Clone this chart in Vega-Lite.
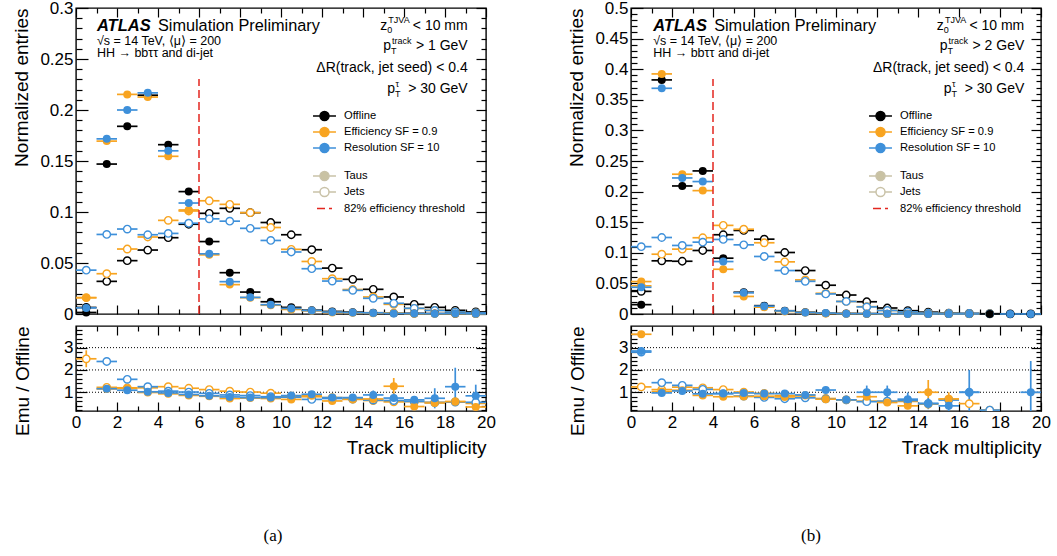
{
"$schema": "https://vega.github.io/schema/vega-lite/v6.json",
"background": "white",
"padding": {"left": 12, "top": -2, "right": 5, "bottom": 5},
"bounds": "flush",
"spacing": 555,
"resolve": {"scale": {"color": "independent", "fill": "independent", "strokeDash": "independent"}},
"config": {
  "font": "Liberation Sans",
  "view": {"stroke": "black", "strokeWidth": 1.4},
  "axis": {"labelFont": "Liberation Sans", "titleFont": "Liberation Sans", "labelFontSize": 17, "titleFontSize": 19, "titleFontWeight": "normal", "labelColor": "black", "titleColor": "black", "tickColor": "black", "tickWidth": 1.2, "domain": false, "grid": false, "labelFlush": false, "labelOverlap": false, "labelBound": false},
  "legend": {"labelFont": "Liberation Sans", "labelColor": "black"}
},
"datasets": {
"am": [
{"m":0.5,"s":"Off","t":"Jets","v":0.0064},{"m":1.5,"s":"Off","t":"Jets","v":0.032},{"m":2.5,"s":"Off","t":"Jets","v":0.0523},{"m":3.5,"s":"Off","t":"Jets","v":0.0627},{"m":4.5,"s":"Off","t":"Jets","v":0.0748},{"m":5.5,"s":"Off","t":"Jets","v":0.088},{"m":6.5,"s":"Off","t":"Jets","v":0.0987},{"m":7.5,"s":"Off","t":"Jets","v":0.1036},{"m":8.5,"s":"Off","t":"Jets","v":0.0993},{"m":9.5,"s":"Off","t":"Jets","v":0.0897},{"m":10.5,"s":"Off","t":"Jets","v":0.0777},{"m":11.5,"s":"Off","t":"Jets","v":0.063},{"m":12.5,"s":"Off","t":"Jets","v":0.045},{"m":13.5,"s":"Off","t":"Jets","v":0.034},{"m":14.5,"s":"Off","t":"Jets","v":0.0242},{"m":15.5,"s":"Off","t":"Jets","v":0.0167},{"m":16.5,"s":"Off","t":"Jets","v":0.0095},{"m":17.5,"s":"Off","t":"Jets","v":0.0065},{"m":18.5,"s":"Off","t":"Jets","v":0.0036},{"m":19.5,"s":"Off","t":"Jets","v":0.002},
{"m":0.5,"s":"Eff","t":"Jets","v":0.016},{"m":1.5,"s":"Eff","t":"Jets","v":0.0395},{"m":2.5,"s":"Eff","t":"Jets","v":0.0637},{"m":3.5,"s":"Eff","t":"Jets","v":0.0755},{"m":4.5,"s":"Eff","t":"Jets","v":0.0918},{"m":5.5,"s":"Eff","t":"Jets","v":0.101},{"m":6.5,"s":"Eff","t":"Jets","v":0.111},{"m":7.5,"s":"Eff","t":"Jets","v":0.1075},{"m":8.5,"s":"Eff","t":"Jets","v":0.0993},{"m":9.5,"s":"Eff","t":"Jets","v":0.0848},{"m":10.5,"s":"Eff","t":"Jets","v":0.0634},{"m":11.5,"s":"Eff","t":"Jets","v":0.0515},{"m":12.5,"s":"Eff","t":"Jets","v":0.0346},{"m":13.5,"s":"Eff","t":"Jets","v":0.024},{"m":14.5,"s":"Eff","t":"Jets","v":0.0167},{"m":15.5,"s":"Eff","t":"Jets","v":0.0095},{"m":16.5,"s":"Eff","t":"Jets","v":0.0055},{"m":17.5,"s":"Eff","t":"Jets","v":0.0036},{"m":18.5,"s":"Eff","t":"Jets","v":0.0021},{"m":19.5,"s":"Eff","t":"Jets","v":0.0011},
{"m":0.5,"s":"Res","t":"Jets","v":0.043},{"m":1.5,"s":"Res","t":"Jets","v":0.078},{"m":2.5,"s":"Res","t":"Jets","v":0.0833},{"m":3.5,"s":"Res","t":"Jets","v":0.0777},{"m":4.5,"s":"Res","t":"Jets","v":0.079},{"m":5.5,"s":"Res","t":"Jets","v":0.089},{"m":6.5,"s":"Res","t":"Jets","v":0.0933},{"m":7.5,"s":"Res","t":"Jets","v":0.091},{"m":8.5,"s":"Res","t":"Jets","v":0.084},{"m":9.5,"s":"Res","t":"Jets","v":0.0721},{"m":10.5,"s":"Res","t":"Jets","v":0.0608},{"m":11.5,"s":"Res","t":"Jets","v":0.0444},{"m":12.5,"s":"Res","t":"Jets","v":0.0323},{"m":13.5,"s":"Res","t":"Jets","v":0.0232},{"m":14.5,"s":"Res","t":"Jets","v":0.0154},{"m":15.5,"s":"Res","t":"Jets","v":0.0105},{"m":16.5,"s":"Res","t":"Jets","v":0.0056},{"m":17.5,"s":"Res","t":"Jets","v":0.0035},{"m":18.5,"s":"Res","t":"Jets","v":0.002},{"m":19.5,"s":"Res","t":"Jets","v":0.0011},
{"m":0.5,"s":"Off","t":"Taus","v":0.0015},{"m":1.5,"s":"Off","t":"Taus","v":0.147},{"m":2.5,"s":"Off","t":"Taus","v":0.184},{"m":3.5,"s":"Off","t":"Taus","v":0.2145},{"m":4.5,"s":"Off","t":"Taus","v":0.166},{"m":5.5,"s":"Off","t":"Taus","v":0.12},{"m":6.5,"s":"Off","t":"Taus","v":0.071},{"m":7.5,"s":"Off","t":"Taus","v":0.0405},{"m":8.5,"s":"Off","t":"Taus","v":0.0215},{"m":9.5,"s":"Off","t":"Taus","v":0.012},{"m":10.5,"s":"Off","t":"Taus","v":0.0065},{"m":11.5,"s":"Off","t":"Taus","v":0.0037},{"m":12.5,"s":"Off","t":"Taus","v":0.0025},{"m":13.5,"s":"Off","t":"Taus","v":0.0018},{"m":14.5,"s":"Off","t":"Taus","v":0.0012},{"m":15.5,"s":"Off","t":"Taus","v":0.0008},{"m":16.5,"s":"Off","t":"Taus","v":0.0006},{"m":17.5,"s":"Off","t":"Taus","v":0.0004},{"m":18.5,"s":"Off","t":"Taus","v":0.0003},{"m":19.5,"s":"Off","t":"Taus","v":0.0002},
{"m":0.5,"s":"Eff","t":"Taus","v":0.016},{"m":1.5,"s":"Eff","t":"Taus","v":0.1695},{"m":2.5,"s":"Eff","t":"Taus","v":0.2153},{"m":3.5,"s":"Eff","t":"Taus","v":0.2127},{"m":4.5,"s":"Eff","t":"Taus","v":0.1546},{"m":5.5,"s":"Eff","t":"Taus","v":0.102},{"m":6.5,"s":"Eff","t":"Taus","v":0.058},{"m":7.5,"s":"Eff","t":"Taus","v":0.0288},{"m":8.5,"s":"Eff","t":"Taus","v":0.016},{"m":9.5,"s":"Eff","t":"Taus","v":0.0086},{"m":10.5,"s":"Eff","t":"Taus","v":0.0045},{"m":11.5,"s":"Eff","t":"Taus","v":0.0031},{"m":12.5,"s":"Eff","t":"Taus","v":0.0015},{"m":13.5,"s":"Eff","t":"Taus","v":0.0012},{"m":14.5,"s":"Eff","t":"Taus","v":0.0008},{"m":15.5,"s":"Eff","t":"Taus","v":0.001},{"m":16.5,"s":"Eff","t":"Taus","v":0.0002},{"m":17.5,"s":"Eff","t":"Taus","v":0.0002},{"m":18.5,"s":"Eff","t":"Taus","v":0.00017},{"m":19.5,"s":"Eff","t":"Taus","v":0.00007},
{"m":0.5,"s":"Res","t":"Taus","v":0.006},{"m":1.5,"s":"Res","t":"Taus","v":0.1717},{"m":2.5,"s":"Res","t":"Taus","v":0.2},{"m":3.5,"s":"Res","t":"Taus","v":0.2168},{"m":4.5,"s":"Res","t":"Taus","v":0.16},{"m":5.5,"s":"Res","t":"Taus","v":0.1088},{"m":6.5,"s":"Res","t":"Taus","v":0.059},{"m":7.5,"s":"Res","t":"Taus","v":0.0317},{"m":8.5,"s":"Res","t":"Taus","v":0.0163},{"m":9.5,"s":"Res","t":"Taus","v":0.0091},{"m":10.5,"s":"Res","t":"Taus","v":0.0055},{"m":11.5,"s":"Res","t":"Taus","v":0.0034},{"m":12.5,"s":"Res","t":"Taus","v":0.0019},{"m":13.5,"s":"Res","t":"Taus","v":0.0014},{"m":14.5,"s":"Res","t":"Taus","v":0.0011},{"m":15.5,"s":"Res","t":"Taus","v":0.0006},{"m":16.5,"s":"Res","t":"Taus","v":0.0004},{"m":17.5,"s":"Res","t":"Taus","v":0.0003},{"m":18.5,"s":"Res","t":"Taus","v":0.0004},{"m":19.5,"s":"Res","t":"Taus","v":0.00017}
],
"ar": [
{"m":0.5,"s":"Eff","t":"Jets","r":2.5,"e":0.38},{"m":1.5,"s":"Eff","t":"Jets","r":1.22,"e":0.06},{"m":2.5,"s":"Eff","t":"Jets","r":1.2,"e":0.03},{"m":3.5,"s":"Eff","t":"Jets","r":1.2,"e":0.02},{"m":4.5,"s":"Eff","t":"Jets","r":1.25,"e":0.02},{"m":5.5,"s":"Eff","t":"Jets","r":1.18,"e":0.02},{"m":6.5,"s":"Eff","t":"Jets","r":1.12,"e":0.02},{"m":7.5,"s":"Eff","t":"Jets","r":1.05,"e":0.02},{"m":8.5,"s":"Eff","t":"Jets","r":1.01,"e":0.02},{"m":9.5,"s":"Eff","t":"Jets","r":0.96,"e":0.02},{"m":10.5,"s":"Eff","t":"Jets","r":0.82,"e":0.02},{"m":11.5,"s":"Eff","t":"Jets","r":0.8,"e":0.02},{"m":12.5,"s":"Eff","t":"Jets","r":0.76,"e":0.03},{"m":13.5,"s":"Eff","t":"Jets","r":0.7,"e":0.03},{"m":14.5,"s":"Eff","t":"Jets","r":0.63,"e":0.04},{"m":15.5,"s":"Eff","t":"Jets","r":0.57,"e":0.05},{"m":16.5,"s":"Eff","t":"Jets","r":0.58,"e":0.06},{"m":17.5,"s":"Eff","t":"Jets","r":0.55,"e":0.08},{"m":18.5,"s":"Eff","t":"Jets","r":0.58,"e":0.1},{"m":19.5,"s":"Eff","t":"Jets","r":0.5,"e":0.12},
{"m":1.5,"s":"Res","t":"Jets","r":2.38,"e":0.08},{"m":2.5,"s":"Res","t":"Jets","r":1.58,"e":0.04},{"m":3.5,"s":"Res","t":"Jets","r":1.25,"e":0.03},{"m":4.5,"s":"Res","t":"Jets","r":1.05,"e":0.02},{"m":5.5,"s":"Res","t":"Jets","r":1.01,"e":0.02},{"m":6.5,"s":"Res","t":"Jets","r":0.95,"e":0.02},{"m":7.5,"s":"Res","t":"Jets","r":0.88,"e":0.02},{"m":8.5,"s":"Res","t":"Jets","r":0.85,"e":0.02},{"m":9.5,"s":"Res","t":"Jets","r":0.8,"e":0.02},{"m":10.5,"s":"Res","t":"Jets","r":0.78,"e":0.02},{"m":11.5,"s":"Res","t":"Jets","r":0.68,"e":0.02},{"m":12.5,"s":"Res","t":"Jets","r":0.72,"e":0.03},{"m":13.5,"s":"Res","t":"Jets","r":0.69,"e":0.03},{"m":14.5,"s":"Res","t":"Jets","r":0.65,"e":0.04},{"m":15.5,"s":"Res","t":"Jets","r":0.63,"e":0.05},{"m":16.5,"s":"Res","t":"Jets","r":0.59,"e":0.06},{"m":17.5,"s":"Res","t":"Jets","r":0.54,"e":0.08},{"m":18.5,"s":"Res","t":"Jets","r":0.56,"e":0.1},{"m":19.5,"s":"Res","t":"Jets","r":0.55,"e":0.12},
{"m":1.5,"s":"Eff","t":"Taus","r":1.15,"e":0.02},{"m":2.5,"s":"Eff","t":"Taus","r":1.17,"e":0.02},{"m":3.5,"s":"Eff","t":"Taus","r":0.99,"e":0.02},{"m":4.5,"s":"Eff","t":"Taus","r":0.93,"e":0.02},{"m":5.5,"s":"Eff","t":"Taus","r":0.86,"e":0.02},{"m":6.5,"s":"Eff","t":"Taus","r":0.82,"e":0.03},{"m":7.5,"s":"Eff","t":"Taus","r":0.72,"e":0.03},{"m":8.5,"s":"Eff","t":"Taus","r":0.74,"e":0.04},{"m":9.5,"s":"Eff","t":"Taus","r":0.72,"e":0.05},{"m":10.5,"s":"Eff","t":"Taus","r":0.68,"e":0.05},{"m":11.5,"s":"Eff","t":"Taus","r":0.84,"e":0.07},{"m":12.5,"s":"Eff","t":"Taus","r":0.61,"e":0.08},{"m":13.5,"s":"Eff","t":"Taus","r":0.68,"e":0.09},{"m":14.5,"s":"Eff","t":"Taus","r":0.7,"e":0.1},{"m":15.5,"s":"Eff","t":"Taus","r":1.27,"e":0.37},{"m":16.5,"s":"Eff","t":"Taus","r":0.36,"e":0.1},{"m":17.5,"s":"Eff","t":"Taus","r":0.52,"e":0.15},{"m":18.5,"s":"Eff","t":"Taus","r":0.58,"e":0.2},{"m":19.5,"s":"Eff","t":"Taus","r":0.34,"e":0.15},
{"m":1.5,"s":"Res","t":"Taus","r":1.16,"e":0.02},{"m":2.5,"s":"Res","t":"Taus","r":1.09,"e":0.02},{"m":3.5,"s":"Res","t":"Taus","r":1.02,"e":0.02},{"m":4.5,"s":"Res","t":"Taus","r":0.97,"e":0.02},{"m":5.5,"s":"Res","t":"Taus","r":0.9,"e":0.02},{"m":6.5,"s":"Res","t":"Taus","r":0.84,"e":0.03},{"m":7.5,"s":"Res","t":"Taus","r":0.79,"e":0.03},{"m":8.5,"s":"Res","t":"Taus","r":0.76,"e":0.04},{"m":9.5,"s":"Res","t":"Taus","r":0.76,"e":0.05},{"m":10.5,"s":"Res","t":"Taus","r":0.85,"e":0.05},{"m":11.5,"s":"Res","t":"Taus","r":0.91,"e":0.07},{"m":12.5,"s":"Res","t":"Taus","r":0.76,"e":0.08},{"m":13.5,"s":"Res","t":"Taus","r":0.76,"e":0.1},{"m":14.5,"s":"Res","t":"Taus","r":0.88,"e":0.2},{"m":15.5,"s":"Res","t":"Taus","r":0.74,"e":0.2},{"m":16.5,"s":"Res","t":"Taus","r":0.66,"e":0.15},{"m":17.5,"s":"Res","t":"Taus","r":0.73,"e":0.45},{"m":18.5,"s":"Res","t":"Taus","r":1.25,"e":0.85},{"m":19.5,"s":"Res","t":"Taus","r":0.84,"e":0.5}
],
"bm": [
{"m":0.5,"s":"Off","t":"Jets","v":0.037},{"m":1.5,"s":"Off","t":"Jets","v":0.0869},{"m":2.5,"s":"Off","t":"Jets","v":0.0862},{"m":3.5,"s":"Off","t":"Jets","v":0.1038},{"m":4.5,"s":"Off","t":"Jets","v":0.1295},{"m":5.5,"s":"Off","t":"Jets","v":0.1365},{"m":6.5,"s":"Off","t":"Jets","v":0.1223},{"m":7.5,"s":"Off","t":"Jets","v":0.1005},{"m":8.5,"s":"Off","t":"Jets","v":0.071},{"m":9.5,"s":"Off","t":"Jets","v":0.047},{"m":10.5,"s":"Off","t":"Jets","v":0.031},{"m":11.5,"s":"Off","t":"Jets","v":0.02},{"m":12.5,"s":"Off","t":"Jets","v":0.0098},{"m":13.5,"s":"Off","t":"Jets","v":0.0054},{"m":14.5,"s":"Off","t":"Jets","v":0.003},{"m":15.5,"s":"Off","t":"Jets","v":0.0015},{"m":16.5,"s":"Off","t":"Jets","v":0.0009},{"m":17.5,"s":"Off","t":"Jets","v":0.0005},{"m":18.5,"s":"Off","t":"Jets","v":0.0003},{"m":19.5,"s":"Off","t":"Jets","v":0.0002},
{"m":0.5,"s":"Eff","t":"Jets","v":0.046},{"m":1.5,"s":"Eff","t":"Jets","v":0.0977},{"m":2.5,"s":"Eff","t":"Jets","v":0.106},{"m":3.5,"s":"Eff","t":"Jets","v":0.1246},{"m":4.5,"s":"Eff","t":"Jets","v":0.1448},{"m":5.5,"s":"Eff","t":"Jets","v":0.1385},{"m":6.5,"s":"Eff","t":"Jets","v":0.1164},{"m":7.5,"s":"Eff","t":"Jets","v":0.0852},{"m":8.5,"s":"Eff","t":"Jets","v":0.0557},{"m":9.5,"s":"Eff","t":"Jets","v":0.0338},{"m":10.5,"s":"Eff","t":"Jets","v":0.0205},{"m":11.5,"s":"Eff","t":"Jets","v":0.012},{"m":12.5,"s":"Eff","t":"Jets","v":0.0058},{"m":13.5,"s":"Eff","t":"Jets","v":0.0032},{"m":14.5,"s":"Eff","t":"Jets","v":0.0014},{"m":15.5,"s":"Eff","t":"Jets","v":0.001},{"m":16.5,"s":"Eff","t":"Jets","v":0.00045},{"m":17.5,"s":"Eff","t":"Jets","v":0.0001},
{"m":0.5,"s":"Res","t":"Jets","v":0.11},{"m":1.5,"s":"Res","t":"Jets","v":0.125},{"m":2.5,"s":"Res","t":"Jets","v":0.112},{"m":3.5,"s":"Res","t":"Jets","v":0.1174},{"m":4.5,"s":"Res","t":"Jets","v":0.1218},{"m":5.5,"s":"Res","t":"Jets","v":0.113},{"m":6.5,"s":"Res","t":"Jets","v":0.094},{"m":7.5,"s":"Res","t":"Jets","v":0.071},{"m":8.5,"s":"Res","t":"Jets","v":0.0534},{"m":9.5,"s":"Res","t":"Jets","v":0.0328},{"m":10.5,"s":"Res","t":"Jets","v":0.0205},{"m":11.5,"s":"Res","t":"Jets","v":0.0116},{"m":12.5,"s":"Res","t":"Jets","v":0.0058},{"m":13.5,"s":"Res","t":"Jets","v":0.0034},{"m":14.5,"s":"Res","t":"Jets","v":0.0015},{"m":15.5,"s":"Res","t":"Jets","v":0.001},{"m":16.5,"s":"Res","t":"Jets","v":0.0009},{"m":17.5,"s":"Res","t":"Jets","v":0.0001},
{"m":0.5,"s":"Off","t":"Taus","v":0.0153},{"m":1.5,"s":"Off","t":"Taus","v":0.3825},{"m":2.5,"s":"Off","t":"Taus","v":0.2092},{"m":3.5,"s":"Off","t":"Taus","v":0.2338},{"m":4.5,"s":"Off","t":"Taus","v":0.0912},{"m":5.5,"s":"Off","t":"Taus","v":0.0355},{"m":6.5,"s":"Off","t":"Taus","v":0.0136},{"m":7.5,"s":"Off","t":"Taus","v":0.0053},{"m":8.5,"s":"Off","t":"Taus","v":0.0028},{"m":9.5,"s":"Off","t":"Taus","v":0.0014},{"m":10.5,"s":"Off","t":"Taus","v":0.0009},{"m":11.5,"s":"Off","t":"Taus","v":0.0006},{"m":12.5,"s":"Off","t":"Taus","v":0.0004},{"m":13.5,"s":"Off","t":"Taus","v":0.0003},{"m":14.5,"s":"Off","t":"Taus","v":0.0002},{"m":15.5,"s":"Off","t":"Taus","v":0.00015},{"m":16.5,"s":"Off","t":"Taus","v":0.0001},{"m":17.5,"s":"Off","t":"Taus","v":0.0001},{"m":18.5,"s":"Off","t":"Taus","v":0.00005},{"m":19.5,"s":"Off","t":"Taus","v":0.00005},
{"m":0.5,"s":"Eff","t":"Taus","v":0.053},{"m":1.5,"s":"Eff","t":"Taus","v":0.3923},{"m":2.5,"s":"Eff","t":"Taus","v":0.2284},{"m":3.5,"s":"Eff","t":"Taus","v":0.2016},{"m":4.5,"s":"Eff","t":"Taus","v":0.0731},{"m":5.5,"s":"Eff","t":"Taus","v":0.0287},{"m":6.5,"s":"Eff","t":"Taus","v":0.0112},{"m":7.5,"s":"Eff","t":"Taus","v":0.0042},{"m":8.5,"s":"Eff","t":"Taus","v":0.0024},{"m":9.5,"s":"Eff","t":"Taus","v":0.001},{"m":10.5,"s":"Eff","t":"Taus","v":0.0006},{"m":11.5,"s":"Eff","t":"Taus","v":0.0005},{"m":12.5,"s":"Eff","t":"Taus","v":0.0002},{"m":13.5,"s":"Eff","t":"Taus","v":0.00012},{"m":14.5,"s":"Eff","t":"Taus","v":0.0002},{"m":15.5,"s":"Eff","t":"Taus","v":0.0001},{"m":16.5,"s":"Eff","t":"Taus","v":0.00005},
{"m":0.5,"s":"Res","t":"Taus","v":0.0437},{"m":1.5,"s":"Res","t":"Taus","v":0.3688},{"m":2.5,"s":"Res","t":"Taus","v":0.2223},{"m":3.5,"s":"Res","t":"Taus","v":0.2164},{"m":4.5,"s":"Res","t":"Taus","v":0.0857},{"m":5.5,"s":"Res","t":"Taus","v":0.0347},{"m":6.5,"s":"Res","t":"Taus","v":0.0128},{"m":7.5,"s":"Res","t":"Taus","v":0.005},{"m":8.5,"s":"Res","t":"Taus","v":0.0025},{"m":9.5,"s":"Res","t":"Taus","v":0.0015},{"m":10.5,"s":"Res","t":"Taus","v":0.0006},{"m":11.5,"s":"Res","t":"Taus","v":0.0006},{"m":12.5,"s":"Res","t":"Taus","v":0.0004},{"m":13.5,"s":"Res","t":"Taus","v":0.0002},{"m":14.5,"s":"Res","t":"Taus","v":0.0001},{"m":15.5,"s":"Res","t":"Taus","v":0.00006},{"m":16.5,"s":"Res","t":"Taus","v":0.0001},{"m":18.5,"s":"Res","t":"Taus","v":0.00004},{"m":19.5,"s":"Res","t":"Taus","v":0.00005}
],
"br": [
{"m":0.5,"s":"Eff","t":"Jets","r":1.24,"e":0.04},{"m":1.5,"s":"Eff","t":"Jets","r":1.12,"e":0.02},{"m":2.5,"s":"Eff","t":"Jets","r":1.23,"e":0.02},{"m":3.5,"s":"Eff","t":"Jets","r":1.2,"e":0.02},{"m":4.5,"s":"Eff","t":"Jets","r":1.12,"e":0.02},{"m":5.5,"s":"Eff","t":"Jets","r":1.01,"e":0.02},{"m":6.5,"s":"Eff","t":"Jets","r":0.95,"e":0.02},{"m":7.5,"s":"Eff","t":"Jets","r":0.85,"e":0.02},{"m":8.5,"s":"Eff","t":"Jets","r":0.78,"e":0.02},{"m":9.5,"s":"Eff","t":"Jets","r":0.72,"e":0.03},{"m":10.5,"s":"Eff","t":"Jets","r":0.66,"e":0.03},{"m":11.5,"s":"Eff","t":"Jets","r":0.6,"e":0.04},{"m":12.5,"s":"Eff","t":"Jets","r":0.59,"e":0.05},{"m":13.5,"s":"Eff","t":"Jets","r":0.59,"e":0.06},{"m":14.5,"s":"Eff","t":"Jets","r":0.47,"e":0.08},{"m":15.5,"s":"Eff","t":"Jets","r":0.69,"e":0.1},{"m":16.5,"s":"Eff","t":"Jets","r":0.49,"e":0.12},{"m":17.5,"s":"Eff","t":"Jets","r":0.2,"e":0.08},
{"m":0.5,"s":"Res","t":"Jets","r":2.8,"e":0.06},{"m":1.5,"s":"Res","t":"Jets","r":1.43,"e":0.02},{"m":2.5,"s":"Res","t":"Jets","r":1.31,"e":0.02},{"m":3.5,"s":"Res","t":"Jets","r":1.13,"e":0.02},{"m":4.5,"s":"Res","t":"Jets","r":0.94,"e":0.02},{"m":5.5,"s":"Res","t":"Jets","r":0.83,"e":0.02},{"m":6.5,"s":"Res","t":"Jets","r":0.77,"e":0.02},{"m":7.5,"s":"Res","t":"Jets","r":0.71,"e":0.02},{"m":8.5,"s":"Res","t":"Jets","r":0.75,"e":0.02},{"m":9.5,"s":"Res","t":"Jets","r":0.7,"e":0.03},{"m":10.5,"s":"Res","t":"Jets","r":0.66,"e":0.03},{"m":11.5,"s":"Res","t":"Jets","r":0.58,"e":0.04},{"m":12.5,"s":"Res","t":"Jets","r":0.6,"e":0.05},{"m":13.5,"s":"Res","t":"Jets","r":0.63,"e":0.06},{"m":14.5,"s":"Res","t":"Jets","r":0.5,"e":0.08},{"m":15.5,"s":"Res","t":"Jets","r":0.65,"e":0.1},{"m":16.5,"s":"Res","t":"Jets","r":1.0,"e":0.2},{"m":17.5,"s":"Res","t":"Jets","r":0.2,"e":0.08},
{"m":0.5,"s":"Eff","t":"Taus","r":3.6,"e":0.1},{"m":1.5,"s":"Eff","t":"Taus","r":1.03,"e":0.01},{"m":2.5,"s":"Eff","t":"Taus","r":1.09,"e":0.01},{"m":3.5,"s":"Eff","t":"Taus","r":0.86,"e":0.01},{"m":4.5,"s":"Eff","t":"Taus","r":0.8,"e":0.02},{"m":5.5,"s":"Eff","t":"Taus","r":0.81,"e":0.03},{"m":6.5,"s":"Eff","t":"Taus","r":0.82,"e":0.05},{"m":7.5,"s":"Eff","t":"Taus","r":0.79,"e":0.07},{"m":8.5,"s":"Eff","t":"Taus","r":0.85,"e":0.1},{"m":9.5,"s":"Eff","t":"Taus","r":0.69,"e":0.1},{"m":10.5,"s":"Eff","t":"Taus","r":0.66,"e":0.1},{"m":11.5,"s":"Eff","t":"Taus","r":0.8,"e":0.15},{"m":12.5,"s":"Eff","t":"Taus","r":0.54,"e":0.15},{"m":13.5,"s":"Eff","t":"Taus","r":0.39,"e":0.15},{"m":14.5,"s":"Eff","t":"Taus","r":1.0,"e":0.55},{"m":15.5,"s":"Eff","t":"Taus","r":0.7,"e":0.3},
{"m":0.5,"s":"Res","t":"Taus","r":2.85,"e":0.08},{"m":1.5,"s":"Res","t":"Taus","r":0.97,"e":0.01},{"m":2.5,"s":"Res","t":"Taus","r":1.06,"e":0.01},{"m":3.5,"s":"Res","t":"Taus","r":0.93,"e":0.01},{"m":4.5,"s":"Res","t":"Taus","r":0.94,"e":0.02},{"m":5.5,"s":"Res","t":"Taus","r":0.97,"e":0.03},{"m":6.5,"s":"Res","t":"Taus","r":0.94,"e":0.05},{"m":7.5,"s":"Res","t":"Taus","r":0.94,"e":0.07},{"m":8.5,"s":"Res","t":"Taus","r":0.88,"e":0.08},{"m":9.5,"s":"Res","t":"Taus","r":1.1,"e":0.15},{"m":10.5,"s":"Res","t":"Taus","r":0.66,"e":0.1},{"m":11.5,"s":"Res","t":"Taus","r":1.0,"e":0.3},{"m":12.5,"s":"Res","t":"Taus","r":1.0,"e":0.3},{"m":13.5,"s":"Res","t":"Taus","r":0.69,"e":0.3},{"m":14.5,"s":"Res","t":"Taus","r":0.49,"e":0.25},{"m":15.5,"s":"Res","t":"Taus","r":0.39,"e":0.25},{"m":16.5,"s":"Res","t":"Taus","r":1.0,"e":1.0},{"m":19.5,"s":"Res","t":"Taus","r":1.0,"e":1.4}
]
},
"hconcat": [
{
 "bounds": "flush",
 "spacing": 12,
 "title": {"text": "(a)", "orient": "bottom", "anchor": "middle", "frame": "group", "font": "Liberation Serif", "fontSize": 17, "fontWeight": "normal", "color": "black", "offset": 70, "dx": 197},
 "resolve": {"scale": {"color": "independent", "fill": "independent", "strokeDash": "independent"}},
 "vconcat": [
 {
  "width": 410, "height": 306,
  "resolve": {"axis": {"x": "independent", "y": "independent"}},
  "layer": [
   {"data": {"name": "am"},
    "mark": {"type": "tick", "orient": "horizontal", "size": 20.5, "thickness": 1.7, "opacity": 1},
    "encoding": {
     "x": {"field": "m", "type": "quantitative", "scale": {"domain": [0, 20], "nice": false, "zero": false}, "axis": {"orient": "bottom", "values": [0,2,4,6,8,10,12,14,16,18,20], "labels": false, "title": null, "tickSize": -9}},
     "y": {"field": "v", "type": "quantitative", "scale": {"domain": [0, 0.3], "nice": false}, "axis": {"orient": "left", "values": [0,0.05,0.1,0.15,0.2,0.25,0.3], "format": "~g", "title": "Normalized entries", "titleAnchor": "end", "titlePadding": 8, "tickSize": -12, "labelPadding": 15}},
     "color": {"field": "s", "type": "nominal", "scale": {"domain": ["Off", "Eff", "Res"], "range": ["#000000", "#f8a420", "#3e90da"]},
      "legend": {"orient": "none", "legendX": 240, "legendY": 99.5, "title": null, "padding": 0, "symbolType": "M-1.53,0H-0.6M0.6,0H1.53M-0.6,0A0.6,0.6 0 1,1 0.6,0A0.6,0.6 0 1,1 -0.6,0Z", "symbolSize": 225, "symbolStrokeWidth": 1.5, "symbolOpacity": 1, "labelFontSize": 11.2, "labelOffset": 11, "rowPadding": 0,
       "labelExpr": "datum.label === 'Off' ? 'Offline' : datum.label === 'Eff' ? 'Efficiency SF = 0.9' : 'Resolution SF = 10'",
       "encode": {"symbols": {"update": {"fill": {"signal": "datum.value === 'Off' ? '#000000' : datum.value === 'Eff' ? '#f8a420' : '#3e90da'"}, "stroke": {"signal": "datum.value === 'Off' ? '#000000' : datum.value === 'Eff' ? '#f8a420' : '#3e90da'"}, "opacity": {"value": 1}, "fillOpacity": {"value": 1}, "strokeOpacity": {"value": 1}}}}}}
    }},
   {"data": {"name": "am"}, "transform": [{"filter": "datum.t === 'Jets'"}],
    "mark": {"type": "point", "shape": "circle", "filled": false, "size": 55, "strokeWidth": 1.4, "opacity": 1},
    "encoding": {
     "x": {"field": "m", "type": "quantitative", "axis": {"orient": "top", "values": [0,2,4,6,8,10,12,14,16,18,20], "labels": false, "title": null, "tickSize": -9}},
     "y": {"field": "v", "type": "quantitative", "axis": {"orient": "right", "values": [0,0.05,0.1,0.15,0.2,0.25,0.3], "labels": false, "title": null, "tickSize": -10}},
     "color": {"field": "s", "type": "nominal", "legend": null},
     "fill": {"field": "t", "type": "nominal", "scale": {"domain": ["Taus", "Jets"], "range": ["#c9c2a3", "#ffffff"]},
      "legend": {"orient": "none", "legendX": 240, "legendY": 159.5, "title": null, "padding": 0, "symbolType": "M-1.53,0H-0.6M0.6,0H1.53M-0.6,0A0.6,0.6 0 1,1 0.6,0A0.6,0.6 0 1,1 -0.6,0Z", "symbolSize": 225, "symbolStrokeWidth": 1.5, "symbolStrokeColor": "#c9c2a8", "symbolOpacity": 1, "labelFontSize": 11.2, "labelOffset": 11, "rowPadding": 0,
       "encode": {"symbols": {"update": {"stroke": {"value": "#c9c2a8"}, "opacity": {"value": 1}, "fillOpacity": {"value": 1}, "strokeOpacity": {"value": 1}}}}}}
    }},
   {"data": {"name": "am"}, "transform": [{"filter": "datum.t === 'Taus'"}],
    "mark": {"type": "point", "shape": "circle", "filled": true, "size": 64, "opacity": 1},
    "encoding": {
     "x": {"field": "m", "type": "quantitative", "axis": {"orient": "bottom", "values": [1,3,5,7,9,11,13,15,17,19], "labels": false, "title": null, "tickSize": -5}},
     "y": {"field": "v", "type": "quantitative", "axis": {"orient": "left", "values": [0.01,0.02,0.03,0.04,0.06,0.07,0.08,0.09,0.11,0.12,0.13,0.14,0.16,0.17,0.18,0.19,0.21,0.22,0.23,0.24,0.26,0.27,0.28,0.29], "labels": false, "title": null, "tickSize": -6}},
     "color": {"field": "s", "type": "nominal", "legend": null}
    }},
   {"data": {"values": [{"thr": 6, "lab": "82% efficiency threshold"}]},
    "mark": {"type": "rule", "color": "#e3261f", "strokeWidth": 1.5},
    "encoding": {
     "x": {"field": "thr", "type": "quantitative", "axis": {"orient": "top", "values": [1,3,5,7,9,11,13,15,17,19], "labels": false, "title": null, "tickSize": -5}},
     "y": {"datum": 0, "type": "quantitative", "axis": {"orient": "right", "values": [0.01,0.02,0.03,0.04,0.06,0.07,0.08,0.09,0.11,0.12,0.13,0.14,0.16,0.17,0.18,0.19,0.21,0.22,0.23,0.24,0.26,0.27,0.28,0.29], "labels": false, "title": null, "tickSize": -5}},
     "y2": {"datum": 0.2304},
     "strokeDash": {"field": "lab", "type": "nominal", "scale": {"range": [[8, 4]]},
      "legend": {"orient": "none", "legendX": 240, "legendY": 192, "title": null, "padding": 0, "symbolSize": 225, "symbolStrokeWidth": 1.5, "labelFontSize": 11.2, "labelOffset": 11, "rowPadding": 0,
       "encode": {"symbols": {"update": {"shape": {"value": "M-1.53,0H1.53"}, "stroke": {"value": "#e3261f"}, "strokeDash": {"value": [7, 8]}, "opacity": {"value": 1}, "strokeOpacity": {"value": 1}}}}}}
    }},
   {"data": {"values": [{}]},
    "layer": [
     {"mark": {"type": "text", "text": "ATLAS", "align": "left", "baseline": "middle", "fontSize": 16.5, "fontStyle": "italic", "fontWeight": "bold", "color": "black"}, "encoding": {"x": {"datum": 1.02, "type": "quantitative", "axis": null}, "y": {"datum": 0.2819, "type": "quantitative", "axis": null}}},
     {"mark": {"type": "text", "text": "Simulation Preliminary", "align": "left", "baseline": "middle", "fontSize": 16.3, "dx": 61, "color": "black"}, "encoding": {"x": {"datum": 1.02, "type": "quantitative", "axis": null}, "y": {"datum": 0.2819, "type": "quantitative", "axis": null}}},
     {"mark": {"type": "text", "text": "√s = 14 TeV, ⟨μ⟩ = 200", "align": "left", "baseline": "middle", "fontSize": 12.5, "color": "black"}, "encoding": {"x": {"datum": 1.02, "type": "quantitative", "axis": null}, "y": {"datum": 0.2676, "type": "quantitative", "axis": null}}},
     {"mark": {"type": "text", "text": "HH → bbττ and di-jet", "align": "left", "baseline": "middle", "fontSize": 12.5, "color": "black"}, "encoding": {"x": {"datum": 1.02, "type": "quantitative", "axis": null}, "y": {"datum": 0.2554, "type": "quantitative", "axis": null}}},
     {"mark": {"type": "text", "text": "< 10 mm", "align": "right", "baseline": "middle", "fontSize": 14, "color": "black"}, "encoding": {"x": {"datum": 19.107, "type": "quantitative", "axis": null}, "y": {"datum": 0.2824, "type": "quantitative", "axis": null}}},
     {"mark": {"type": "text", "text": "TJVA", "align": "right", "baseline": "middle", "fontSize": 9, "dx": -58, "dy": -5.5, "color": "black"}, "encoding": {"x": {"datum": 19.107, "type": "quantitative", "axis": null}, "y": {"datum": 0.2824, "type": "quantitative", "axis": null}}},
     {"mark": {"type": "text", "text": "0", "align": "left", "baseline": "middle", "fontSize": 9, "dx": -80.5, "dy": 4.5, "color": "black"}, "encoding": {"x": {"datum": 19.107, "type": "quantitative", "axis": null}, "y": {"datum": 0.2824, "type": "quantitative", "axis": null}}},
     {"mark": {"type": "text", "text": "z", "align": "right", "baseline": "middle", "fontSize": 14, "dx": -80.5, "color": "black"}, "encoding": {"x": {"datum": 19.107, "type": "quantitative", "axis": null}, "y": {"datum": 0.2824, "type": "quantitative", "axis": null}}},
     {"mark": {"type": "text", "text": "> 1 GeV", "align": "right", "baseline": "middle", "fontSize": 14, "color": "black"}, "encoding": {"x": {"datum": 19.107, "type": "quantitative", "axis": null}, "y": {"datum": 0.2627, "type": "quantitative", "axis": null}}},
     {"mark": {"type": "text", "text": "track", "align": "right", "baseline": "middle", "fontSize": 9, "dx": -56.2, "dy": -5.5, "color": "black"}, "encoding": {"x": {"datum": 19.107, "type": "quantitative", "axis": null}, "y": {"datum": 0.2627, "type": "quantitative", "axis": null}}},
     {"mark": {"type": "text", "text": "T", "align": "left", "baseline": "middle", "fontSize": 9, "dx": -76.7, "dy": 4.5, "color": "black"}, "encoding": {"x": {"datum": 19.107, "type": "quantitative", "axis": null}, "y": {"datum": 0.2627, "type": "quantitative", "axis": null}}},
     {"mark": {"type": "text", "text": "p", "align": "right", "baseline": "middle", "fontSize": 14, "dx": -76.7, "color": "black"}, "encoding": {"x": {"datum": 19.107, "type": "quantitative", "axis": null}, "y": {"datum": 0.2627, "type": "quantitative", "axis": null}}},
     {"mark": {"type": "text", "text": "ΔR(track, jet seed) < 0.4", "align": "right", "baseline": "middle", "fontSize": 14, "color": "black"}, "encoding": {"x": {"datum": 19.107, "type": "quantitative", "axis": null}, "y": {"datum": 0.2415, "type": "quantitative", "axis": null}}},
     {"mark": {"type": "text", "text": "> 30 GeV", "align": "right", "baseline": "middle", "fontSize": 14, "color": "black"}, "encoding": {"x": {"datum": 19.107, "type": "quantitative", "axis": null}, "y": {"datum": 0.2203, "type": "quantitative", "axis": null}}},
     {"mark": {"type": "text", "text": "τ", "align": "left", "baseline": "middle", "fontSize": 9, "dx": -72.2, "dy": -5.5, "color": "black"}, "encoding": {"x": {"datum": 19.107, "type": "quantitative", "axis": null}, "y": {"datum": 0.2203, "type": "quantitative", "axis": null}}},
     {"mark": {"type": "text", "text": "T", "align": "left", "baseline": "middle", "fontSize": 9, "dx": -72.7, "dy": 4.5, "color": "black"}, "encoding": {"x": {"datum": 19.107, "type": "quantitative", "axis": null}, "y": {"datum": 0.2203, "type": "quantitative", "axis": null}}},
     {"mark": {"type": "text", "text": "p", "align": "right", "baseline": "middle", "fontSize": 14, "dx": -72.7, "color": "black"}, "encoding": {"x": {"datum": 19.107, "type": "quantitative", "axis": null}, "y": {"datum": 0.2203, "type": "quantitative", "axis": null}}}
    ]}
  ]
 },
 {
  "width": 410, "height": 85,
  "resolve": {"axis": {"x": "independent", "y": "independent"}},
  "layer": [
   {"data": {"values": [{}]}, "mark": {"type": "rule", "color": "black", "strokeWidth": 1, "strokeDash": [1, 2]}, "encoding": {"y": {"datum": 1, "type": "quantitative", "axis": {"orient": "right", "values": [0.2,0.4,0.6,0.8,1.2,1.4,1.6,1.8,2.2,2.4,2.6,2.8,3.2,3.4,3.6,3.8], "labels": false, "title": null, "tickSize": -5}}}},
   {"data": {"values": [{}]}, "mark": {"type": "rule", "color": "black", "strokeWidth": 1, "strokeDash": [1, 2]}, "encoding": {"y": {"datum": 2, "type": "quantitative", "axis": null}}},
   {"data": {"values": [{}]}, "mark": {"type": "rule", "color": "black", "strokeWidth": 1, "strokeDash": [1, 2]}, "encoding": {"y": {"datum": 3, "type": "quantitative", "axis": null}}},
   {"data": {"name": "ar"},
    "mark": {"type": "tick", "orient": "horizontal", "size": 20.5, "thickness": 1.7, "opacity": 1, "clip": true},
    "encoding": {
     "x": {"field": "m", "type": "quantitative", "scale": {"domain": [0, 20], "nice": false, "zero": false}, "axis": {"orient": "bottom", "values": [0,2,4,6,8,10,12,14,16,18,20], "format": "d", "title": "Track multiplicity", "titleAnchor": "end", "titlePadding": 8, "tickSize": -9, "labelPadding": 12}},
     "y": {"field": "r", "type": "quantitative", "scale": {"domain": [0.16, 3.97], "nice": false, "zero": false}, "axis": {"orient": "left", "values": [1,2,3], "format": "d", "title": "Emu / Offline", "titleAnchor": "end", "titlePadding": 31, "tickSize": -11, "labelPadding": 14}},
     "color": {"field": "s", "type": "nominal", "scale": {"domain": ["Eff", "Res"], "range": ["#f8a420", "#3e90da"]}, "legend": null}
    }},
   {"data": {"name": "ar"},
    "mark": {"type": "errorbar", "thickness": 1.7, "clip": true},
    "encoding": {
     "x": {"field": "m", "type": "quantitative", "axis": null},
     "y": {"field": "r", "type": "quantitative", "axis": null},
     "yError": {"field": "e"},
     "color": {"field": "s", "type": "nominal", "legend": null}
    }},
   {"data": {"name": "ar"}, "transform": [{"filter": "datum.t === 'Jets'"}],
    "mark": {"type": "point", "shape": "circle", "filled": false, "fill": "white", "size": 55, "strokeWidth": 1.4, "opacity": 1, "clip": true},
    "encoding": {
     "x": {"field": "m", "type": "quantitative", "axis": {"orient": "top", "values": [0,2,4,6,8,10,12,14,16,18,20], "labels": false, "title": null, "tickSize": -9}},
     "y": {"field": "r", "type": "quantitative", "axis": {"orient": "right", "values": [1,2,3], "labels": false, "title": null, "tickSize": -10}},
     "color": {"field": "s", "type": "nominal", "legend": null}
    }},
   {"data": {"name": "ar"}, "transform": [{"filter": "datum.t === 'Taus'"}],
    "mark": {"type": "point", "shape": "circle", "filled": true, "size": 64, "opacity": 1, "clip": true},
    "encoding": {
     "x": {"field": "m", "type": "quantitative", "axis": {"orient": "bottom", "values": [1,3,5,7,9,11,13,15,17,19], "labels": false, "title": null, "tickSize": -5}},
     "y": {"field": "r", "type": "quantitative", "axis": {"orient": "left", "values": [0.2,0.4,0.6,0.8,1.2,1.4,1.6,1.8,2.2,2.4,2.6,2.8,3.2,3.4,3.6,3.8], "labels": false, "title": null, "tickSize": -6}},
     "color": {"field": "s", "type": "nominal", "legend": null}
    }},
   {"data": {"name": "ar"},
    "mark": {"type": "point", "opacity": 0},
    "encoding": {
     "x": {"field": "m", "type": "quantitative", "axis": {"orient": "top", "values": [1,3,5,7,9,11,13,15,17,19], "labels": false, "title": null, "tickSize": -5}},
     "y": {"field": "r", "type": "quantitative", "axis": null}
    }}
  ]
 }
 ]
},
{
 "bounds": "flush",
 "spacing": 12,
 "title": {"text": "(b)", "orient": "bottom", "anchor": "middle", "frame": "group", "font": "Liberation Serif", "fontSize": 17, "fontWeight": "normal", "color": "black", "offset": 70, "dx": 180},
 "resolve": {"scale": {"color": "independent", "fill": "independent", "strokeDash": "independent"}},
 "vconcat": [
 {
  "width": 410, "height": 306,
  "resolve": {"axis": {"x": "independent", "y": "independent"}},
  "layer": [
   {"data": {"name": "bm"},
    "mark": {"type": "tick", "orient": "horizontal", "size": 20.5, "thickness": 1.7, "opacity": 1},
    "encoding": {
     "x": {"field": "m", "type": "quantitative", "scale": {"domain": [0, 20], "nice": false, "zero": false}, "axis": {"orient": "bottom", "values": [0,2,4,6,8,10,12,14,16,18,20], "labels": false, "title": null, "tickSize": -9}},
     "y": {"field": "v", "type": "quantitative", "scale": {"domain": [0, 0.5], "nice": false}, "axis": {"orient": "left", "values": [0,0.05,0.1,0.15,0.2,0.25,0.3,0.35,0.4,0.45,0.5], "format": "~g", "title": "Normalized entries", "titleAnchor": "end", "titlePadding": 8, "tickSize": -12, "labelPadding": 15}},
     "color": {"field": "s", "type": "nominal", "scale": {"domain": ["Off", "Eff", "Res"], "range": ["#000000", "#f8a420", "#3e90da"]},
      "legend": {"orient": "none", "legendX": 241, "legendY": 99.5, "title": null, "padding": 0, "symbolType": "M-1.53,0H-0.6M0.6,0H1.53M-0.6,0A0.6,0.6 0 1,1 0.6,0A0.6,0.6 0 1,1 -0.6,0Z", "symbolSize": 225, "symbolStrokeWidth": 1.5, "symbolOpacity": 1, "labelFontSize": 11.2, "labelOffset": 11, "rowPadding": 0,
       "labelExpr": "datum.label === 'Off' ? 'Offline' : datum.label === 'Eff' ? 'Efficiency SF = 0.9' : 'Resolution SF = 10'",
       "encode": {"symbols": {"update": {"fill": {"signal": "datum.value === 'Off' ? '#000000' : datum.value === 'Eff' ? '#f8a420' : '#3e90da'"}, "stroke": {"signal": "datum.value === 'Off' ? '#000000' : datum.value === 'Eff' ? '#f8a420' : '#3e90da'"}, "opacity": {"value": 1}, "fillOpacity": {"value": 1}, "strokeOpacity": {"value": 1}}}}}}
    }},
   {"data": {"name": "bm"}, "transform": [{"filter": "datum.t === 'Jets'"}],
    "mark": {"type": "point", "shape": "circle", "filled": false, "size": 55, "strokeWidth": 1.4, "opacity": 1},
    "encoding": {
     "x": {"field": "m", "type": "quantitative", "axis": {"orient": "top", "values": [0,2,4,6,8,10,12,14,16,18,20], "labels": false, "title": null, "tickSize": -9}},
     "y": {"field": "v", "type": "quantitative", "axis": {"orient": "right", "values": [0,0.05,0.1,0.15,0.2,0.25,0.3,0.35,0.4,0.45,0.5], "labels": false, "title": null, "tickSize": -10}},
     "color": {"field": "s", "type": "nominal", "legend": null},
     "fill": {"field": "t", "type": "nominal", "scale": {"domain": ["Taus", "Jets"], "range": ["#c9c2a3", "#ffffff"]},
      "legend": {"orient": "none", "legendX": 241, "legendY": 159.5, "title": null, "padding": 0, "symbolType": "M-1.53,0H-0.6M0.6,0H1.53M-0.6,0A0.6,0.6 0 1,1 0.6,0A0.6,0.6 0 1,1 -0.6,0Z", "symbolSize": 225, "symbolStrokeWidth": 1.5, "symbolStrokeColor": "#c9c2a8", "symbolOpacity": 1, "labelFontSize": 11.2, "labelOffset": 11, "rowPadding": 0,
       "encode": {"symbols": {"update": {"stroke": {"value": "#c9c2a8"}, "opacity": {"value": 1}, "fillOpacity": {"value": 1}, "strokeOpacity": {"value": 1}}}}}}
    }},
   {"data": {"name": "bm"}, "transform": [{"filter": "datum.t === 'Taus'"}],
    "mark": {"type": "point", "shape": "circle", "filled": true, "size": 64, "opacity": 1},
    "encoding": {
     "x": {"field": "m", "type": "quantitative", "axis": {"orient": "bottom", "values": [1,3,5,7,9,11,13,15,17,19], "labels": false, "title": null, "tickSize": -5}},
     "y": {"field": "v", "type": "quantitative", "axis": {"orient": "left", "values": [0.01,0.02,0.03,0.04,0.06,0.07,0.08,0.09,0.11,0.12,0.13,0.14,0.16,0.17,0.18,0.19,0.21,0.22,0.23,0.24,0.26,0.27,0.28,0.29,0.31,0.32,0.33,0.34,0.36,0.37,0.38,0.39,0.41,0.42,0.43,0.44,0.46,0.47,0.48,0.49], "labels": false, "title": null, "tickSize": -6}},
     "color": {"field": "s", "type": "nominal", "legend": null}
    }},
   {"data": {"values": [{"thr": 4, "lab": "82% efficiency threshold"}]},
    "mark": {"type": "rule", "color": "#e3261f", "strokeWidth": 1.5},
    "encoding": {
     "x": {"field": "thr", "type": "quantitative", "axis": {"orient": "top", "values": [1,3,5,7,9,11,13,15,17,19], "labels": false, "title": null, "tickSize": -5}},
     "y": {"datum": 0, "type": "quantitative", "axis": {"orient": "right", "values": [0.01,0.02,0.03,0.04,0.06,0.07,0.08,0.09,0.11,0.12,0.13,0.14,0.16,0.17,0.18,0.19,0.21,0.22,0.23,0.24,0.26,0.27,0.28,0.29,0.31,0.32,0.33,0.34,0.36,0.37,0.38,0.39,0.41,0.42,0.43,0.44,0.46,0.47,0.48,0.49], "labels": false, "title": null, "tickSize": -5}},
     "y2": {"datum": 0.384},
     "strokeDash": {"field": "lab", "type": "nominal", "scale": {"range": [[8, 4]]},
      "legend": {"orient": "none", "legendX": 241, "legendY": 192, "title": null, "padding": 0, "symbolSize": 225, "symbolStrokeWidth": 1.5, "labelFontSize": 11.2, "labelOffset": 11, "rowPadding": 0,
       "encode": {"symbols": {"update": {"shape": {"value": "M-1.53,0H1.53"}, "stroke": {"value": "#e3261f"}, "strokeDash": {"value": [7, 8]}, "opacity": {"value": 1}, "strokeOpacity": {"value": 1}}}}}}
    }},
   {"data": {"values": [{}]},
    "layer": [
     {"mark": {"type": "text", "text": "ATLAS", "align": "left", "baseline": "middle", "fontSize": 16.5, "fontStyle": "italic", "fontWeight": "bold", "color": "black"}, "encoding": {"x": {"datum": 1.08, "type": "quantitative", "axis": null}, "y": {"datum": 0.4698, "type": "quantitative", "axis": null}}},
     {"mark": {"type": "text", "text": "Simulation Preliminary", "align": "left", "baseline": "middle", "fontSize": 16.3, "dx": 61, "color": "black"}, "encoding": {"x": {"datum": 1.08, "type": "quantitative", "axis": null}, "y": {"datum": 0.4698, "type": "quantitative", "axis": null}}},
     {"mark": {"type": "text", "text": "√s = 14 TeV, ⟨μ⟩ = 200", "align": "left", "baseline": "middle", "fontSize": 12.5, "color": "black"}, "encoding": {"x": {"datum": 1.08, "type": "quantitative", "axis": null}, "y": {"datum": 0.4461, "type": "quantitative", "axis": null}}},
     {"mark": {"type": "text", "text": "HH → bbττ and di-jet", "align": "left", "baseline": "middle", "fontSize": 12.5, "color": "black"}, "encoding": {"x": {"datum": 1.08, "type": "quantitative", "axis": null}, "y": {"datum": 0.4257, "type": "quantitative", "axis": null}}},
     {"mark": {"type": "text", "text": "< 10 mm", "align": "right", "baseline": "middle", "fontSize": 14, "color": "black"}, "encoding": {"x": {"datum": 19.185, "type": "quantitative", "axis": null}, "y": {"datum": 0.4706, "type": "quantitative", "axis": null}}},
     {"mark": {"type": "text", "text": "TJVA", "align": "right", "baseline": "middle", "fontSize": 9, "dx": -58, "dy": -5.5, "color": "black"}, "encoding": {"x": {"datum": 19.185, "type": "quantitative", "axis": null}, "y": {"datum": 0.4706, "type": "quantitative", "axis": null}}},
     {"mark": {"type": "text", "text": "0", "align": "left", "baseline": "middle", "fontSize": 9, "dx": -80.5, "dy": 4.5, "color": "black"}, "encoding": {"x": {"datum": 19.185, "type": "quantitative", "axis": null}, "y": {"datum": 0.4706, "type": "quantitative", "axis": null}}},
     {"mark": {"type": "text", "text": "z", "align": "right", "baseline": "middle", "fontSize": 14, "dx": -80.5, "color": "black"}, "encoding": {"x": {"datum": 19.185, "type": "quantitative", "axis": null}, "y": {"datum": 0.4706, "type": "quantitative", "axis": null}}},
     {"mark": {"type": "text", "text": "> 2 GeV", "align": "right", "baseline": "middle", "fontSize": 14, "color": "black"}, "encoding": {"x": {"datum": 19.185, "type": "quantitative", "axis": null}, "y": {"datum": 0.4379, "type": "quantitative", "axis": null}}},
     {"mark": {"type": "text", "text": "track", "align": "right", "baseline": "middle", "fontSize": 9, "dx": -56.2, "dy": -5.5, "color": "black"}, "encoding": {"x": {"datum": 19.185, "type": "quantitative", "axis": null}, "y": {"datum": 0.4379, "type": "quantitative", "axis": null}}},
     {"mark": {"type": "text", "text": "T", "align": "left", "baseline": "middle", "fontSize": 9, "dx": -76.7, "dy": 4.5, "color": "black"}, "encoding": {"x": {"datum": 19.185, "type": "quantitative", "axis": null}, "y": {"datum": 0.4379, "type": "quantitative", "axis": null}}},
     {"mark": {"type": "text", "text": "p", "align": "right", "baseline": "middle", "fontSize": 14, "dx": -76.7, "color": "black"}, "encoding": {"x": {"datum": 19.185, "type": "quantitative", "axis": null}, "y": {"datum": 0.4379, "type": "quantitative", "axis": null}}},
     {"mark": {"type": "text", "text": "ΔR(track, jet seed) < 0.4", "align": "right", "baseline": "middle", "fontSize": 14, "color": "black"}, "encoding": {"x": {"datum": 19.185, "type": "quantitative", "axis": null}, "y": {"datum": 0.4025, "type": "quantitative", "axis": null}}},
     {"mark": {"type": "text", "text": "> 30 GeV", "align": "right", "baseline": "middle", "fontSize": 14, "color": "black"}, "encoding": {"x": {"datum": 19.185, "type": "quantitative", "axis": null}, "y": {"datum": 0.3672, "type": "quantitative", "axis": null}}},
     {"mark": {"type": "text", "text": "τ", "align": "left", "baseline": "middle", "fontSize": 9, "dx": -72.2, "dy": -5.5, "color": "black"}, "encoding": {"x": {"datum": 19.185, "type": "quantitative", "axis": null}, "y": {"datum": 0.3672, "type": "quantitative", "axis": null}}},
     {"mark": {"type": "text", "text": "T", "align": "left", "baseline": "middle", "fontSize": 9, "dx": -72.7, "dy": 4.5, "color": "black"}, "encoding": {"x": {"datum": 19.185, "type": "quantitative", "axis": null}, "y": {"datum": 0.3672, "type": "quantitative", "axis": null}}},
     {"mark": {"type": "text", "text": "p", "align": "right", "baseline": "middle", "fontSize": 14, "dx": -72.7, "color": "black"}, "encoding": {"x": {"datum": 19.185, "type": "quantitative", "axis": null}, "y": {"datum": 0.3672, "type": "quantitative", "axis": null}}}
    ]}
  ]
 },
 {
  "width": 410, "height": 85,
  "resolve": {"axis": {"x": "independent", "y": "independent"}},
  "layer": [
   {"data": {"values": [{}]}, "mark": {"type": "rule", "color": "black", "strokeWidth": 1, "strokeDash": [1, 2]}, "encoding": {"y": {"datum": 1, "type": "quantitative", "axis": {"orient": "right", "values": [0.2,0.4,0.6,0.8,1.2,1.4,1.6,1.8,2.2,2.4,2.6,2.8,3.2,3.4,3.6,3.8], "labels": false, "title": null, "tickSize": -5}}}},
   {"data": {"values": [{}]}, "mark": {"type": "rule", "color": "black", "strokeWidth": 1, "strokeDash": [1, 2]}, "encoding": {"y": {"datum": 2, "type": "quantitative", "axis": null}}},
   {"data": {"values": [{}]}, "mark": {"type": "rule", "color": "black", "strokeWidth": 1, "strokeDash": [1, 2]}, "encoding": {"y": {"datum": 3, "type": "quantitative", "axis": null}}},
   {"data": {"name": "br"},
    "mark": {"type": "tick", "orient": "horizontal", "size": 20.5, "thickness": 1.7, "opacity": 1, "clip": true},
    "encoding": {
     "x": {"field": "m", "type": "quantitative", "scale": {"domain": [0, 20], "nice": false, "zero": false}, "axis": {"orient": "bottom", "values": [0,2,4,6,8,10,12,14,16,18,20], "format": "d", "title": "Track multiplicity", "titleAnchor": "end", "titlePadding": 8, "tickSize": -9, "labelPadding": 12}},
     "y": {"field": "r", "type": "quantitative", "scale": {"domain": [0.16, 3.97], "nice": false, "zero": false}, "axis": {"orient": "left", "values": [1,2,3], "format": "d", "title": "Emu / Offline", "titleAnchor": "end", "titlePadding": 31, "tickSize": -11, "labelPadding": 14}},
     "color": {"field": "s", "type": "nominal", "scale": {"domain": ["Eff", "Res"], "range": ["#f8a420", "#3e90da"]}, "legend": null}
    }},
   {"data": {"name": "br"},
    "mark": {"type": "errorbar", "thickness": 1.7, "clip": true},
    "encoding": {
     "x": {"field": "m", "type": "quantitative", "axis": null},
     "y": {"field": "r", "type": "quantitative", "axis": null},
     "yError": {"field": "e"},
     "color": {"field": "s", "type": "nominal", "legend": null}
    }},
   {"data": {"name": "br"}, "transform": [{"filter": "datum.t === 'Jets'"}],
    "mark": {"type": "point", "shape": "circle", "filled": false, "fill": "white", "size": 55, "strokeWidth": 1.4, "opacity": 1, "clip": true},
    "encoding": {
     "x": {"field": "m", "type": "quantitative", "axis": {"orient": "top", "values": [0,2,4,6,8,10,12,14,16,18,20], "labels": false, "title": null, "tickSize": -9}},
     "y": {"field": "r", "type": "quantitative", "axis": {"orient": "right", "values": [1,2,3], "labels": false, "title": null, "tickSize": -10}},
     "color": {"field": "s", "type": "nominal", "legend": null}
    }},
   {"data": {"name": "br"}, "transform": [{"filter": "datum.t === 'Taus'"}],
    "mark": {"type": "point", "shape": "circle", "filled": true, "size": 64, "opacity": 1, "clip": true},
    "encoding": {
     "x": {"field": "m", "type": "quantitative", "axis": {"orient": "bottom", "values": [1,3,5,7,9,11,13,15,17,19], "labels": false, "title": null, "tickSize": -5}},
     "y": {"field": "r", "type": "quantitative", "axis": {"orient": "left", "values": [0.2,0.4,0.6,0.8,1.2,1.4,1.6,1.8,2.2,2.4,2.6,2.8,3.2,3.4,3.6,3.8], "labels": false, "title": null, "tickSize": -6}},
     "color": {"field": "s", "type": "nominal", "legend": null}
    }},
   {"data": {"name": "br"},
    "mark": {"type": "point", "opacity": 0},
    "encoding": {
     "x": {"field": "m", "type": "quantitative", "axis": {"orient": "top", "values": [1,3,5,7,9,11,13,15,17,19], "labels": false, "title": null, "tickSize": -5}},
     "y": {"field": "r", "type": "quantitative", "axis": null}
    }}
  ]
 }
 ]
}
]
}
